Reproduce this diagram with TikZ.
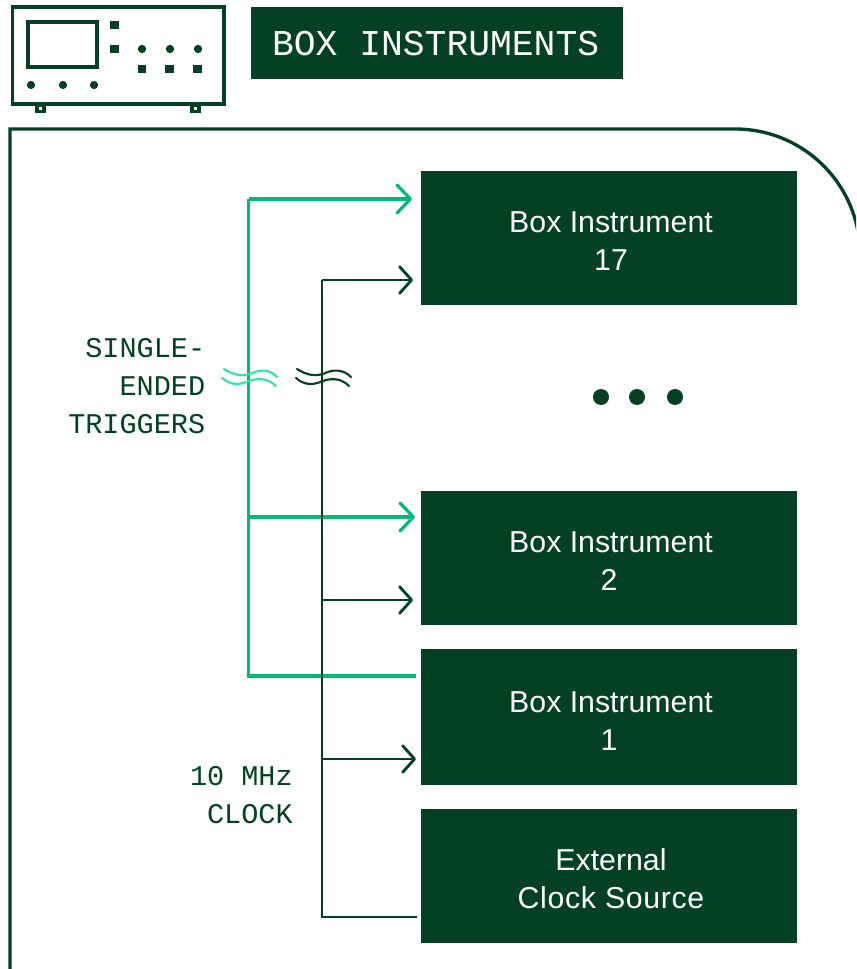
\documentclass[tikz,border=0pt]{standalone}
\usepackage{fontspec}
\setmainfont{Liberation Sans}
\newfontfamily\monof{Liberation Mono}
\usetikzlibrary{arrows.meta}
\definecolor{deep}{HTML}{034024}
\definecolor{trig}{HTML}{00B97A}
\definecolor{wavelight}{HTML}{2FE8A0}
\newcommand{\boxline}[1]{\hspace*{3pt}#1}
\newcommand{\boxtop}{\rule{0pt}{21pt}}
\tikzset{
  x=0.75pt,y=-0.75pt,
  boxnode/.style={fill=deep,text=white,minimum width=282pt,inner sep=0pt,align=center,font=\fontsize{22.7pt}{28.5pt}\selectfont},
  labelnode/.style={text=deep,inner sep=0pt,align=right,font=\monof\fontsize{21.4pt}{28.5pt}\selectfont},
  titlenode/.style={fill=deep,text=white,inner sep=0pt,minimum width=279pt,minimum height=54pt,font=\monof\fontsize{27.25pt}{32pt}\selectfont},
  greenline/.style={draw=trig,line width=2.45pt},
  darkline/.style={draw=deep,line width=2.15pt},
  greenarrow/.style={greenline,-{Straight Barb[length=10pt,width=21pt,round]}},
  darkarrow/.style={darkline,-{Straight Barb[length=9pt,width=20pt,round]}},
  iconline/.style={draw=deep,line width=2.7pt},
  wavegreen/.style={draw=wavelight,line width=1.6pt,line cap=round},
  wavedark/.style={draw=deep,line width=1.6pt,line cap=round},
  dotnode/.style={circle,fill=deep,inner sep=0pt,minimum size=12pt},
  iconsq/.style={fill=deep,inner sep=0pt,minimum size=6.5pt},
  icondot/.style={circle,fill=deep,inner sep=0pt,minimum size=6.2pt},
}
\begin{document}
\begin{tikzpicture}
\path[use as bounding box] (0,0) rectangle (856,969);
\clip (0,0) rectangle (856,969);
% frame
\draw[draw=deep,line width=2.5pt] (10,980) -- (10,129) -- (735,129) .. controls (804,129) and (860,185) .. (860,254);
% icon
\draw[iconline] (12.5,7) rectangle (224,104);
\draw[iconline] (28,22) rectangle (97,67);
\draw[draw=deep,line width=2.6pt] (37,105) rectangle (44,111.5);
\draw[draw=deep,line width=2.6pt] (192,105) rectangle (199,111.5);
\foreach \n/\a/\b in {s1/114.5/25,s2/114.5/49,s3/142/69,s4/169.5/69,s5/197.5/69}
  \node[iconsq] (\n) at (\a,\b) {};
\foreach \n/\a/\b in {c1/142/49,c2/170/49,c3/198/49,c4/31/85,c5/63/85,c6/94/85}
  \node[icondot] (\n) at (\a,\b) {};
% title
\node[titlenode] (title) at (437,43) {\rule{0pt}{19.7pt}\hspace*{-2pt}BOX INSTRUMENTS};
% boxes
\node[boxnode,minimum height=100.5pt] (b17) at (609,238) {\boxtop\boxline{Box Instrument}\\\boxline{17}};
\node[boxnode,minimum height=100.5pt] (b2) at (609,558) {\rule{0pt}{19.5pt}\boxline{Box Instrument}\\2};
\node[boxnode,minimum height=102pt] (b1) at (609,717) {\boxtop\boxline{Box Instrument}\\1};
\node[boxnode,minimum height=100.5pt] (ext) at (609,876) {\boxtop\boxline{External}\\\boxline{\addfontfeature{LetterSpace=2.2}Clock Source}};
% dots
\node[dotnode] (d1) at (601,397) {};
\node[dotnode] (d2) at (637,397) {};
\node[dotnode] (d3) at (675,397) {};
% labels
\node[labelnode,anchor=east] (trlabel) at (205.5,386) {SINGLE-\\ENDED\\TRIGGERS};
\node[labelnode,anchor=east] (clklabel) at (293,795) {10 MHz\\CLOCK};
% connector anchors
\coordinate (g17) at (412,199);
\coordinate (g2) at (415,517);
\coordinate (g1) at (416,676);
\coordinate (k17) at (413,280);
\coordinate (k2) at (413,600);
\coordinate (k1) at (416,759);
\coordinate (kx) at (417,917);
\coordinate (gt) at (248.5,199);
\coordinate (kt) at (322,280);
% green connectors
\draw[greenline] (g1) -- (gt |- g1) -- (gt);
\draw[greenarrow] (gt) -- (g17);
\draw[greenarrow] (gt |- g2) -- (g2);
% dark connectors
\draw[darkline] (kx) -- (kt |- kx) -- (kt);
\draw[darkarrow] (kt) -- (k17);
\draw[darkarrow] (kt |- k2) -- (k2);
\draw[darkarrow] (kt |- k1) -- (k1);
% wave breaks
\draw[wavegreen] (224,369) .. controls (235,376) and (243,376) .. (250,374) .. controls (260,369) and (270,369) .. (277,377);
\draw[wavegreen] (222,378) .. controls (231,385) and (238,385) .. (245,382.5) .. controls (255,378) and (267,377) .. (276,386);
\draw[wavedark] (297,369) .. controls (308,376) and (316,376) .. (323,374) .. controls (333,369) and (343,369) .. (351,377);
\draw[wavedark] (296,378) .. controls (304,385) and (312,385) .. (319,382.5) .. controls (329,378) and (340,377) .. (349,386);
\end{tikzpicture}
\end{document}
